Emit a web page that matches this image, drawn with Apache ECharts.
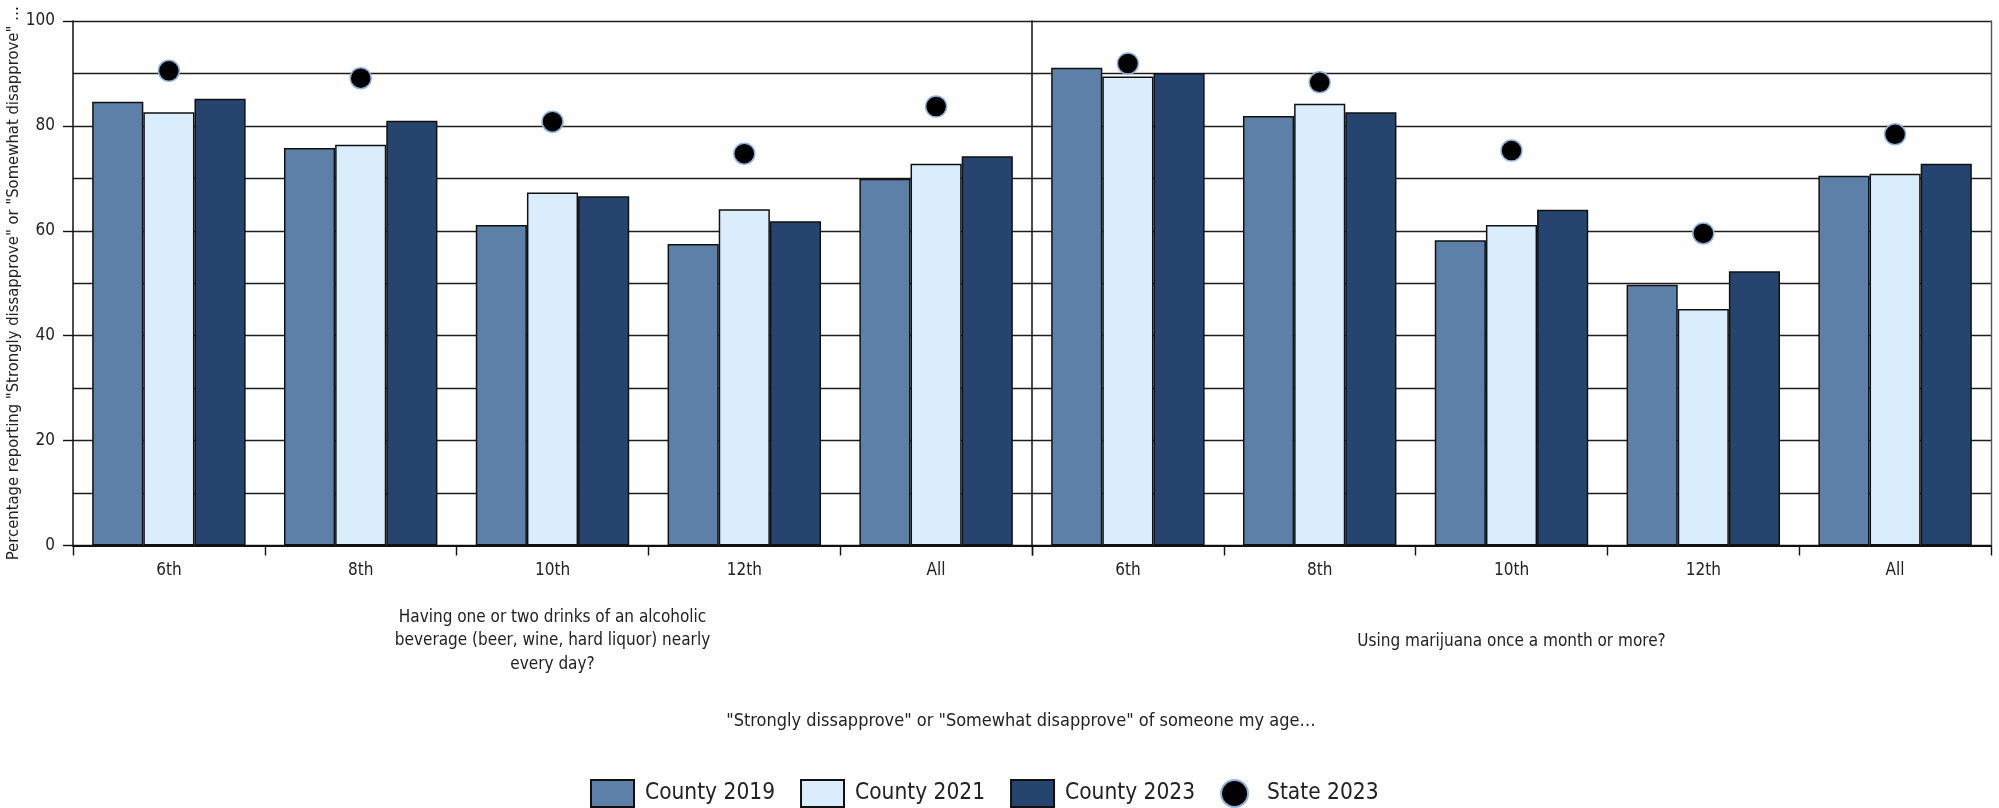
<!DOCTYPE html>
<html>
<head>
<meta charset="utf-8">
<script src="https://cdn.jsdelivr.net/npm/echarts@6/dist/echarts.min.js"></script>
<style>
  html, body { margin: 0; padding: 0; background: #fff; }
  #chart { width: 1999px; height: 808px; }
</style>
</head>
<body>
<div id="chart"></div>
<script>
// ---- data ----
const grades = ['6th', '8th', '10th', '12th', 'All'];
const seriesNames = ['County 2019', 'County 2021', 'County 2023', 'State 2023'];
const alcohol2019 = [84.6, 75.8, 61.1, 57.5, 69.9];
const alcohol2021 = [82.6, 76.4, 67.3, 64.1, 72.8];
const alcohol2023 = [85.2, 81.0, 66.6, 61.8, 74.2];
const alcoholState = [90.5, 89.1, 80.8, 74.7, 83.7];
const marijuana2019 = [91.1, 81.9, 58.2, 49.7, 70.5];
const marijuana2021 = [89.4, 84.2, 61.1, 45.1, 70.9];
const marijuana2023 = [90.1, 82.6, 64.0, 52.3, 72.8];
const marijuanaState = [91.9, 88.3, 75.3, 59.5, 78.4];
const groupLabels = [
  'Having one or two drinks of an alcoholic\nbeverage (beer, wine, hard liquor) nearly\nevery day?',
  'Using marijuana once a month or more?'
];
const yAxisTitle = 'Percentage reporting "Strongly dissapprove" or "Somewhat disapprove" \u2026';
const xAxisTitle = '"Strongly dissapprove" or "Somewhat disapprove" of someone my age\u2026';
const yTicks = [0, 20, 40, 60, 80, 100];

// ---- styles ----
const FONT = "'Liberation Sans Narrow', 'DejaVu Sans Condensed', 'Noto Sans', sans-serif";
const colors = ['#5c80a8', '#d9edfd', '#26456e', '#000000'];
const gridLine = { color: '#1e1e1e', width: 1.4 };

function yAxisFor(gi, showLabels) {
  return {
    type: 'value', gridIndex: gi, min: 0, max: 100, interval: 20,
    name: showLabels ? yAxisTitle : '',
    nameLocation: 'middle', nameGap: 50,
    nameTextStyle: { fontFamily: FONT, fontSize: 16.5, color: '#222' },
    axisLine: { show: true, lineStyle: { color: '#111', width: 1.5 } },
    axisTick: { show: showLabels, length: 10, lineStyle: { color: '#111', width: 1.4 } },
    axisLabel: {
      show: showLabels, margin: 18, fontFamily: FONT, fontSize: 17, color: '#222',
      formatter: v => (yTicks.indexOf(v) >= 0 ? String(v) : '')
    },
    splitLine: { show: true, lineStyle: gridLine },
    minorTick: { show: false, splitNumber: 2 },
    minorSplitLine: { show: true, lineStyle: gridLine }
  };
}

function xAxisFor(gi, label, gap) {
  return {
    type: 'category', gridIndex: gi, data: grades,
    name: label, nameLocation: 'middle', nameGap: gap,
    nameTextStyle: { fontFamily: FONT, fontSize: 17, color: '#222', lineHeight: 23.5, align: 'center' },
    axisLine: { show: true, lineStyle: { color: '#111', width: 2 } },
    axisTick: { show: true, length: 10, lineStyle: { color: '#111', width: 1.4 } },
    axisLabel: { margin: 17, fontFamily: FONT, fontSize: 17, color: '#222' },
    splitLine: { show: false }
  };
}

function barSeries(name, data, gi, color) {
  return {
    type: 'bar', name: name, data: data,
    xAxisIndex: gi, yAxisIndex: gi,
    barGap: '0%', barCategoryGap: '20%',
    itemStyle: { color: color, borderColor: '#111', borderWidth: 1.5 },
    emphasis: { disabled: true }
  };
}
function stateSeries(name, data, gi) {
  return {
    type: 'scatter', name: name, data: data,
    xAxisIndex: gi, yAxisIndex: gi, z: 5,
    symbol: 'circle', symbolSize: 21,
    itemStyle: { color: '#000', borderColor: '#8fb3dd', borderWidth: 1.5, opacity: 1 },
    emphasis: { disabled: true }
  };
}

const chart = echarts.init(document.getElementById('chart'), null, { renderer: 'canvas' });
const option = {
  animation: false,
  backgroundColor: '#ffffff',
  textStyle: { fontFamily: FONT },
  title: {
    text: xAxisTitle, left: 1016, top: 707, textAlign: 'center',
    textStyle: { fontFamily: FONT, fontSize: 18, fontWeight: 'normal', color: '#222' }
  },
  legend: {
    data: seriesNames.map((n, i) => ({ name: n, icon: i < 3 ? 'rect' : 'circle' })),
    left: 585, top: 774,
    itemWidth: 43, itemHeight: 27, itemGap: 25,
    textStyle: { fontFamily: FONT, fontSize: 22.5, color: '#222', padding: [0, 0, 0, 6] }
  },
  grid: [
    { left: 73, top: 21, width: 959, bottom: 262.5, containLabel: false, outerBoundsMode: 'none' },
    { left: 1032, top: 21, right: 8, bottom: 262.5, containLabel: false, outerBoundsMode: 'none' }
  ],
  xAxis: [
    xAxisFor(0, groupLabels[0], 60),
    xAxisFor(1, groupLabels[1], 84)
  ],
  yAxis: [
    yAxisFor(0, true),
    yAxisFor(1, false),
    {
      type: 'value', gridIndex: 1, position: 'right', min: 0, max: 100, interval: 20,
      axisLine: { show: true, lineStyle: { color: '#555', width: 1.4 } },
      axisTick: { show: false }, axisLabel: { show: false }, splitLine: { show: false }
    }
  ],
  series: [
    barSeries(seriesNames[0], alcohol2019, 0, colors[0]),
    barSeries(seriesNames[1], alcohol2021, 0, colors[1]),
    barSeries(seriesNames[2], alcohol2023, 0, colors[2]),
    stateSeries(seriesNames[3], alcoholState, 0),
    barSeries(seriesNames[0], marijuana2019, 1, colors[0]),
    barSeries(seriesNames[1], marijuana2021, 1, colors[1]),
    barSeries(seriesNames[2], marijuana2023, 1, colors[2]),
    stateSeries(seriesNames[3], marijuanaState, 1)
  ]
};
chart.setOption(option);
</script>
</body>
</html>
